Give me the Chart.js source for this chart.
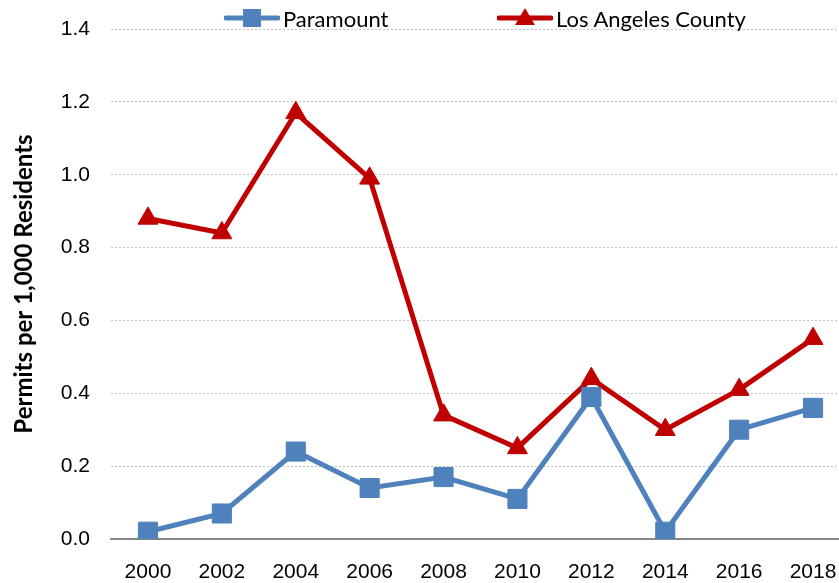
<!DOCTYPE html>
<html>
<head>
<meta charset="utf-8">
<title>Permits per 1,000 Residents</title>
<script src="https://cdn.jsdelivr.net/npm/chart.js@4.4.1/dist/chart.umd.min.js"></script>
<style>
  html, body { margin: 0; padding: 0; background: #fff; overflow: hidden; }
  #wrap { position: relative; width: 839px; height: 583px; overflow: hidden; }
  #chart { position: absolute; left: 0; top: 0; }
  .legend-item { position: absolute; top: 7px; height: 22px; display: flex; align-items: center;
    font-family: Lato, 'Open Sans', sans-serif; font-size: 22px; color: #000; white-space: nowrap; }
  .legend-item svg { margin-right: 3px; }
</style>
</head>
<body>
<div id="wrap">
  <canvas id="chart" width="860" height="583"></canvas>
</div>
<script>
// Data
const years = ['2000', '2002', '2004', '2006', '2008', '2010', '2012', '2014', '2016', '2018'];
const paramount = [0.02, 0.07, 0.24, 0.14, 0.17, 0.11, 0.39, 0.02, 0.30, 0.36];
const laCounty = [0.88, 0.84, 1.17, 0.99, 0.34, 0.25, 0.44, 0.30, 0.41, 0.55];
const seriesNames = ['Paramount', 'Los Angeles County'];

const blue = '#4F81BD';
const red = '#C00000';
const tickFont = "'Liberation Sans', Arial, sans-serif";

const chart = new Chart(document.getElementById('chart'), {
  type: 'line',
  data: {
    labels: years,
    datasets: [{
      label: seriesNames[0],
      data: paramount,
      borderColor: blue,
      backgroundColor: blue,
      borderWidth: 5,
      tension: 0,
      pointStyle: 'rect',
      pointRadius: 13.5,
      pointBorderWidth: 1,
      pointBackgroundColor: blue,
      pointBorderColor: blue
    }, {
      label: seriesNames[1],
      data: laCounty,
      borderColor: red,
      backgroundColor: red,
      borderWidth: 5,
      tension: 0,
      pointStyle: 'triangle',
      pointRadius: 11.5,
      pointBorderWidth: 1,
      pointBackgroundColor: red,
      pointBorderColor: red
    }]
  },
  options: {
    responsive: false,
    animation: false,
    layout: { autoPadding: false, padding: { top: 29, right: 10, left: 0, bottom: 0 } },
    plugins: {
      legend: { display: false },
      tooltip: { enabled: false }
    },
    scales: {
      x: {
        offset: true,
        grid: { display: false, tickLength: 21 },
        border: { display: true, color: '#868686', width: 2 },
        ticks: {
          autoSkip: false, maxRotation: 0, padding: 0,
          color: '#000', font: { family: tickFont, size: 21 }
        },
        afterFit: (scale) => {
          scale.height = 44;
          scale.paddingLeft = 0;
          scale.paddingRight = 0;
        }
      },
      y: {
        min: 0,
        max: 1.4,
        grid: {
          drawTicks: false,
          lineWidth: 1,
          color: (ctx) => (ctx.tick && ctx.tick.value === 0 ? 'rgba(0,0,0,0)' : '#c4c4c4')
        },
        border: { display: false, dash: [2, 2] },
        ticks: {
          stepSize: 0.2,
          padding: 21,
          color: '#000',
          font: { family: tickFont, size: 21 },
          callback: (v) => Number(v).toFixed(1)
        },
        title: {
          display: true,
          text: 'Permits per 1,000 Residents',
          color: '#000',
          font: { family: 'Lato, sans-serif', size: 24, weight: 'bold' },
          padding: { top: 10, bottom: 0 }
        },
        afterFit: (scale) => {
          scale.width = 111;
          scale.paddingTop = 0;
          scale.paddingBottom = 0;
        }
      }
    }
  }
});

// Legend (line + marker, like the spreadsheet legend)
const legendLeft = [224, 497];
chart.data.datasets.forEach((ds, i) => {
  const item = document.createElement('div');
  item.className = 'legend-item';
  item.style.left = legendLeft[i] + 'px';
  const c = ds.borderColor;
  const marker = ds.pointStyle === 'rect'
    ? `<rect x="19" y="2" width="18" height="18" fill="${c}"/>`
    : `<polygon points="28,1 38,18 18,18" fill="${c}"/>`;
  item.innerHTML = `<svg width="56" height="22" viewBox="0 0 56 22">
      <line x1="2" y1="11" x2="54" y2="11" stroke="${c}" stroke-width="5" stroke-linecap="round"/>
      ${marker}</svg><span>${ds.label}</span>`;
  document.getElementById('wrap').appendChild(item);
});
</script>
</body>
</html>
